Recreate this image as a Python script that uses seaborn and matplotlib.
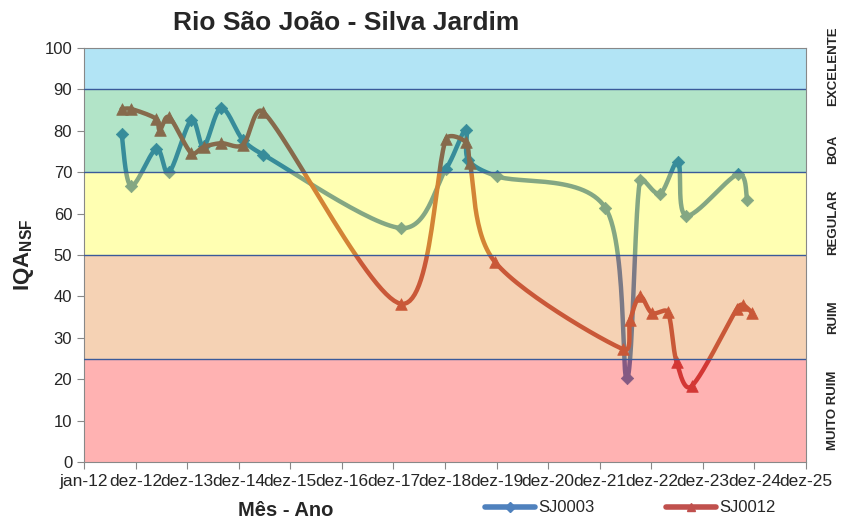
import numpy as np
import matplotlib
matplotlib.use("Agg")
import matplotlib.pyplot as plt
import matplotlib.transforms as mtransforms
from matplotlib.lines import Line2D
import seaborn as sns

# --- dados (x = anos desde jan-12) ---
sj0003_x = [0.73, 0.91, 1.40, 1.65, 2.08, 2.32, 2.66, 3.08, 3.48, 6.15, 7.02, 7.40,
            7.45, 8.01, 10.11, 10.53, 10.78, 11.17, 11.52, 11.68, 12.68, 12.86]
sj0003_y = [79.2, 66.7, 75.6, 70.0, 82.6, 76.3, 85.5, 77.8, 74.2, 56.5, 70.8, 80.3,
            73.0, 69.0, 61.4, 20.2, 68.0, 64.8, 72.4, 59.5, 69.5, 63.3]

sj0012_x = [0.73, 0.91, 1.40, 1.47, 1.65, 2.08, 2.32, 2.66, 3.08, 3.48, 6.15, 7.02,
            7.40, 7.48, 7.97, 10.46, 10.59, 10.78, 11.01, 11.32, 11.49, 11.78, 12.66,
            12.77, 12.96]
sj0012_y = [85.3, 85.3, 82.9, 80.2, 83.3, 74.6, 76.1, 77.0, 76.6, 84.5, 38.2, 78.0,
            77.3, 72.2, 48.3, 27.2, 34.3, 40.0, 36.0, 36.2, 24.2, 18.3, 37.0,
            38.0, 36.0]

tick_labels = ["jan-12", "dez-12", "dez-13", "dez-14", "dez-15", "dez-16", "dez-17",
               "dez-18", "dez-19", "dez-20", "dez-21", "dez-22", "dez-23", "dez-24",
               "dez-25"]

faixa_lim = [0, 25, 50, 70, 90, 100]
faixa_cor = ["#ff0000", "#e16c08", "#ffff00", "#00a84b", "#00a8e1"]
faixa_nome = ["MUITO RUIM", "RUIM", "REGULAR", "BOA", "EXCELENTE"]
faixa_pos = [12.5, 35.0, 58.0, 75.5, 95.7]

BLUE = "#4F81BD"
RED = "#C0504D"


def smooth(x, y, n=30, sx=51.57, sy=4.14, kmax=0.35):
    """curva suavizada tipo Excel (Catmull-Rom com alca limitada pela corda)"""
    p = np.column_stack([np.asarray(x) * sx, np.asarray(y) * sy])
    m = len(p)
    tang = [(p[min(i + 1, m - 1)] - p[max(i - 1, 0)]) / 6 for i in range(m)]
    out = [p[0]]
    t = np.linspace(0, 1, n)[1:, None]
    for i in range(m - 1):
        p1, p2 = p[i], p[i + 1]
        L = np.linalg.norm(p2 - p1)
        h1, h2 = tang[i], tang[i + 1]
        n1, n2 = np.linalg.norm(h1), np.linalg.norm(h2)
        if n1 > kmax * L:
            h1 = h1 * kmax * L / n1
        if n2 > kmax * L:
            h2 = h2 * kmax * L / n2
        c1 = p1 + h1
        c2 = p2 - h2
        seg = ((1 - t) ** 3) * p1 + 3 * ((1 - t) ** 2) * t * c1 + 3 * (1 - t) * t ** 2 * c2 + t ** 3 * p2
        out.extend(seg)
    out = np.array(out)
    return out[:, 0] / sx, out[:, 1] / sy


sns.set_style("white")
plt.rcParams["font.family"] = ["Liberation Sans Narrow", "Liberation Sans", "DejaVu Sans"]
plt.rcParams["mathtext.fontset"] = "custom"
plt.rcParams["mathtext.bf"] = "Liberation Sans:bold"
plt.rcParams["mathtext.rm"] = "Liberation Sans"

fig = plt.figure(figsize=(8.52, 5.22), dpi=100)
ax = fig.add_axes([84 / 852, 1 - 462 / 522, 722 / 852, 414 / 522])

# series (desenhadas por baixo das faixas)
for xs, ys, col, mk, sz in [(sj0003_x, sj0003_y, BLUE, "D", 40),
                            (sj0012_x, sj0012_y, RED, "^", 70)]:
    cx, cy = smooth(xs, ys)
    sns.lineplot(x=cx, y=cy, sort=False, estimator=None, ax=ax, color=col,
                 lw=3.2, zorder=1)
    sns.scatterplot(x=xs, y=ys, ax=ax, color=col, marker=mk, s=sz,
                    edgecolor=col, linewidth=0.5, zorder=1)

# faixas de qualidade
trans = mtransforms.blended_transform_factory(ax.transAxes, ax.transData)
for i in range(5):
    ax.axhspan(faixa_lim[i], faixa_lim[i + 1], color=faixa_cor[i], alpha=0.3, lw=0, zorder=2)
    ax.text(1.038, faixa_pos[i], faixa_nome[i], transform=trans, rotation=90,
            ha="center", va="center", fontsize=9.5, fontweight="bold",
            family=["Liberation Sans", "DejaVu Sans"])
for yv in faixa_lim[1:-1]:
    ax.axhline(yv, color="#3a5a9a", lw=1, zorder=3)

ax.set_xlim(0, 14)
ax.set_ylim(0, 100)
ax.set_xticks(range(15))
ax.set_xticklabels(tick_labels, fontsize=12.5)
ax.set_yticks(range(0, 101, 10))
ax.tick_params(axis="y", labelsize=12, length=5, direction="out", left=True, color="#888888")
ax.tick_params(axis="x", length=5, direction="out", bottom=True, color="#888888")
for s in ax.spines.values():
    s.set_color("#888888")
    s.set_linewidth(0.8)

ax.set_ylabel(r"$\mathbf{IQA}_{\mathbf{NSF}}$", fontsize=16, labelpad=6)
fig.text(286 / 852, 1 - 511 / 522, "Mês - Ano", ha="center", va="center",
         fontsize=14.5, fontweight="bold", family=["Liberation Sans", "DejaVu Sans"])
fig.text(346 / 852, 1 - 23 / 522, "Rio São João - Silva Jardim", ha="center",
         va="center", fontsize=19, fontweight="bold",
         family=["Liberation Sans", "DejaVu Sans"])

handles = [Line2D([], [], color=BLUE, lw=4, marker="D", ms=5, label="SJ0003"),
           Line2D([], [], color=RED, lw=4, marker="^", ms=6, label="SJ0012")]
fig.legend(handles=handles, loc="center", bbox_to_anchor=(630 / 852, 1 - 508 / 522),
           ncol=2, frameon=False, fontsize=12, columnspacing=4.3, handlelength=3,
           handletextpad=0.2)

fig.savefig("out.png", dpi=100)
